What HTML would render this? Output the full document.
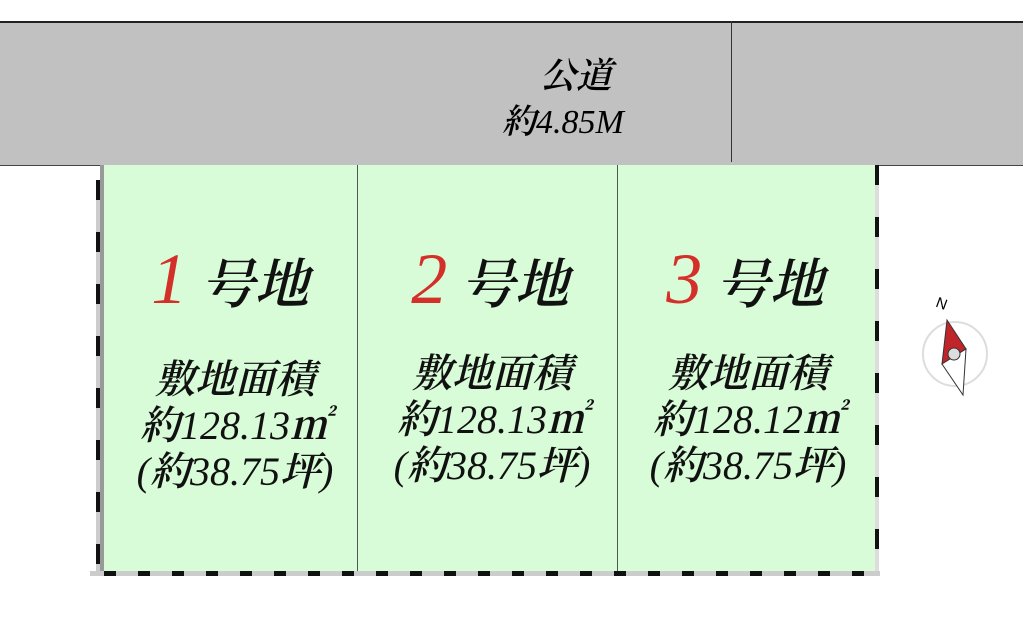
<!DOCTYPE html>
<html><head><meta charset="utf-8"><style>
body{margin:0;width:1023px;height:622px;background:#fff;position:relative;overflow:hidden;font-family:"Liberation Serif","Noto Serif CJK JP",serif}
.abs{position:absolute}
.road{left:0;top:21px;width:1023px;height:142px;background:#c1c1c1;border-top:2px solid #222;border-bottom:1px solid #444}
.lot{top:165px;height:407px;background:#d8fbd8;border-left:1px solid #555}
.t{position:absolute;width:260px;text-align:center;font-style:italic;color:#111;font-weight:600}
.n{font-weight:400}
.big{font-size:54px;top:244px;line-height:70px}
.big span{color:#d3302a;font-size:72px;font-weight:400}
.l{font-size:40px;line-height:46px}
</style></head><body>
<div class="abs road"></div>
<div class="abs" style="left:731px;top:21px;width:1px;height:141px;background:#333"></div>
<div class="abs" style="left:540px;top:48px;font-size:36px;font-style:italic;font-weight:600">公道</div>
<div class="abs" style="left:502px;top:94px;font-size:34px;font-style:italic;font-weight:600">約<span class="n">4.85M</span></div>
<div class="abs lot" style="left:100px;width:257px;border-left:4px solid #999"></div>
<div class="abs lot" style="left:357px;width:260px"></div>
<div class="abs lot" style="left:617px;width:258px"></div>
<div class="abs" style="left:875px;top:165px;width:4px;height:407px;background:repeating-linear-gradient(#111 0 20px,#ddd 20px 52px)"></div>
<div class="abs" style="left:96px;top:180px;width:4px;height:392px;background:repeating-linear-gradient(#111 0 20px,#ccc 20px 52px)"></div>
<div class="abs" style="left:90px;top:571px;width:790px;height:5px;background:repeating-linear-gradient(90deg,#ccc 0 14px,#111 14px 26px,#ccc 26px 34px)"></div>
<div class="t big" style="left:100px"><span>1</span> 号地</div>
<div class="t big" style="left:360px"><span>2</span> 号地</div>
<div class="t big" style="left:615px"><span>3</span> 号地</div>
<div class="t l" style="left:105px;top:357px">敷地面積<br>約<span class="n">128.13</span>㎡<br><span class="n">(</span>約<span class="n">38.75</span>坪<span class="n">)</span></div>
<div class="t l" style="left:362px;top:351px">敷地面積<br>約<span class="n">128.13</span>㎡<br><span class="n">(</span>約<span class="n">38.75</span>坪<span class="n">)</span></div>
<div class="t l" style="left:618px;top:351px">敷地面積<br>約<span class="n">128.12</span>㎡<br><span class="n">(</span>約<span class="n">38.75</span>坪<span class="n">)</span></div>
<svg class="abs" style="left:920px;top:290px" width="80" height="120">
<circle cx="35" cy="64" r="32" fill="none" stroke="#ddd" stroke-width="2"/>
<text x="16" y="18" font-size="15" font-family="Liberation Sans" transform="rotate(20 20 14)">N</text>
<polygon points="27,30 22,74 46,59" fill="#c0252a" stroke="#333"/>
<polygon points="22,74 46,59 43,105" fill="#fff" stroke="#333"/>
<circle cx="34" cy="64" r="6" fill="#ddd" stroke="#333"/>
</svg>
</body></html>
